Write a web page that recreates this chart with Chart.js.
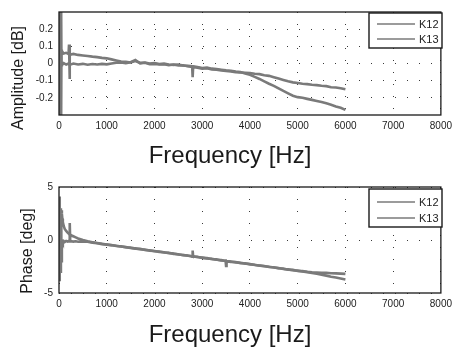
<!DOCTYPE html>
<html>
<head>
<meta charset="utf-8">
<script src="https://cdn.jsdelivr.net/npm/chart.js@4"></script>
<style>
  body { margin: 0; background: #fff; }
  #wrap { position: relative; width: 457px; height: 351px; }
  canvas { position: absolute; left: 0; }
</style>
</head>
<body>
<div id="wrap">
  <canvas id="amp" width="457" height="175" style="top:0"></canvas>
  <canvas id="phase" width="457" height="176" style="top:175px"></canvas>
</div>
<script>
// DATA
const seriesNames = ['K12', 'K13'];
const freqTicks = [0, 1000, 2000, 3000, 4000, 5000, 6000, 7000, 8000];
const ampTicks = [-0.2, -0.1, 0, 0.1, 0.2];
const phaseTicks = [-5, 0, 5];

// amplitude [dB]
const ampFreq = [0, 10, 20, 30, 40, 50, 60, 80, 100, 150, 200, 210, 220, 230, 250, 300,
  400, 500, 600, 700, 800, 900, 1000, 1100, 1200, 1300, 1400, 1500, 1600, 1700, 1800, 1900, 2000, 2100, 2200, 2300, 2400, 2500, 2600, 2700,
  2790, 2800, 2810,
  2900, 3000, 3100, 3200, 3300, 3400, 3500, 3600, 3700, 3800, 3900, 4000, 4100, 4200, 4300, 4400, 4500, 4600, 4700, 4800, 4900, 5000,
  5100, 5200, 5300, 5400, 5500, 5600, 5700, 5800, 5900, 6000];
const ampK12 = [0, 0.45, -0.45, 0.4, -0.4, 0.08, 0.055, 0.065, 0.058, 0.062, 0.055, 0.11, -0.09, 0.06, 0.052, 0.056,
  0.05, 0.047, 0.044, 0.04, 0.037, 0.033, 0.03, 0.024, 0.018, 0.012, 0.01, 0.006, 0.014, 0.004, 0.006, 0.0, 0.002, -0.003, -0.001, -0.006, -0.008, -0.006, -0.012, -0.014,
  -0.016, -0.018, -0.017,
  -0.02, -0.026, -0.024, -0.03, -0.033, -0.036, -0.04, -0.042, -0.047, -0.05, -0.058, -0.066, -0.078, -0.09, -0.104, -0.118, -0.13, -0.145, -0.16, -0.174, -0.188, -0.196,
  -0.2, -0.206, -0.212, -0.218, -0.224, -0.232, -0.24, -0.25, -0.258, -0.27];
const ampK13 = [0, -0.45, 0.45, -0.4, 0.4, -0.01, 0.005, -0.004, 0.002, -0.006, 0.0, -0.004, 0.003, -0.002, -0.005, 0.0,
  -0.006, -0.002, -0.007, -0.003, -0.006, -0.002, -0.005, 0.0, 0.004, 0.006, 0.002, 0.007, 0.02, 0.0, 0.004, -0.004, -0.002, -0.006, -0.004, -0.01, -0.006, -0.012, -0.01, -0.016,
  -0.02, -0.08, -0.02,
  -0.024, -0.03, -0.028, -0.034, -0.036, -0.04, -0.044, -0.046, -0.05, -0.052, -0.054, -0.056, -0.06, -0.062, -0.068, -0.072, -0.08, -0.088, -0.096, -0.104, -0.11, -0.114,
  -0.118, -0.12, -0.124, -0.126, -0.13, -0.132, -0.138, -0.14, -0.144, -0.15];

// phase [deg]
const phaseFreq = [0, 10, 20, 30, 40, 50, 60, 70, 80, 100, 120, 150, 180, 200, 215, 225, 235, 250, 300, 350, 400, 450, 500,
  600, 700, 800, 900, 1000, 1100, 1200, 1300, 1400, 1500, 1600, 1700, 1800, 1900, 2000, 2100, 2200, 2300, 2400, 2500, 2600, 2700,
  2790, 2800, 2810,
  2900, 3000, 3100, 3200, 3300, 3400,
  3490, 3500, 3510,
  3600, 3700, 3800, 3900, 4000, 4100, 4200, 4300, 4400, 4500, 4600, 4700, 4800, 4900, 5000, 5100, 5200, 5300, 5400, 5500, 5600, 5700, 5800, 5900, 6000];
const phaseK12 = [0, 4.1, -2.0, 3.0, -1.0, 2.8, 2.5, 2.0, 1.7, 1.3, 1.05, 0.85, 0.7, 0.62, 0.56, 0.52, 0.5, 0.45, 0.35, 0.25, 0.15, 0.08, 0.0,
  -0.12, -0.21, -0.29, -0.36, -0.42, -0.5, -0.54, -0.62, -0.67, -0.75, -0.79, -0.87, -0.91, -1.0, -1.04, -1.12, -1.16, -1.24, -1.28, -1.37, -1.41, -1.49,
  -1.53, -1.55, -1.54,
  -1.61, -1.66, -1.74, -1.78, -1.86, -1.9,
  -1.98, -1.96, -1.99,
  -2.03, -2.11, -2.15, -2.23, -2.27, -2.36, -2.4, -2.48, -2.52, -2.6, -2.65, -2.73, -2.77, -2.85, -2.89, -2.97, -3.03, -3.11, -3.19, -3.28, -3.36, -3.46, -3.54, -3.63, -3.72];
const phaseK13 = [0, -3.9, 2.0, -3.0, 1.8, -2.0, -0.3, -0.15, -0.25, -0.1, -0.2, -0.1, -0.15, -0.1, -0.14, 1.6, -0.14, -0.12, -0.15, -0.12, -0.16, -0.13, -0.17,
  -0.16, -0.25, -0.3, -0.39, -0.44, -0.48, -0.57, -0.6, -0.69, -0.72, -0.81, -0.84, -0.94, -0.97, -1.06, -1.09, -1.18, -1.21, -1.31, -1.34, -1.43, -1.46,
  -1.55, -1.0, -1.56,
  -1.59, -1.69, -1.71, -1.8, -1.83, -1.93,
  -1.96, -2.45, -1.99,
  -2.06, -2.08, -2.18, -2.2, -2.3, -2.33, -2.42, -2.45, -2.55, -2.57, -2.67, -2.7, -2.8, -2.82, -2.92, -2.94, -3.0, -3.04, -3.06, -3.09, -3.1, -3.13, -3.15, -3.17, -3.2];

const FONT = "'Liberation Sans', Arial, Helvetica, sans-serif";
const LINE = 'rgb(122,122,122)';

function toPoints(xs, ys) {
    return xs.map((x, i) => ({x: x, y: ys[i]}));
}

// axes box, titles and matlab style legend
const decoPlugin = {
    id: 'deco',
    afterDraw(chart, args, o) {
        const ctx = chart.ctx;
        const a = chart.chartArea;
        ctx.save();
        ctx.strokeStyle = '#1a1a1a';
        ctx.lineWidth = 1.3;
        ctx.strokeRect(a.left, a.top, a.right - a.left, a.bottom - a.top);

        // legend
        const b = o.legendBox;
        ctx.fillStyle = '#fff';
        ctx.fillRect(b[0], b[1], b[2], b[3]);
        ctx.lineWidth = 1.4;
        ctx.strokeRect(b[0], b[1], b[2], b[3]);
        chart.data.datasets.forEach((ds, i) => {
            const y = o.legendRows[i];
            ctx.strokeStyle = ds.borderColor;
            ctx.lineWidth = 1.5;
            ctx.beginPath();
            ctx.moveTo(b[0] + 8, y);
            ctx.lineTo(b[0] + 46, y);
            ctx.stroke();
            ctx.fillStyle = '#222';
            ctx.font = '11px ' + FONT;
            ctx.textAlign = 'left';
            ctx.textBaseline = 'middle';
            ctx.fillText(ds.label, b[0] + 50, y + 0.5);
        });

        // titles
        ctx.fillStyle = '#1a1a1a';
        ctx.font = '24px ' + FONT;
        ctx.textAlign = 'center';
        ctx.textBaseline = 'alphabetic';
        ctx.fillText(o.xTitle, o.xTitlePos[0], o.xTitlePos[1]);
        ctx.font = '16px ' + FONT;
        ctx.translate(o.yTitlePos[0], o.yTitlePos[1]);
        ctx.rotate(-Math.PI / 2);
        ctx.fillText(o.yTitle, 0, 0);
        ctx.restore();
    }
};

function makeChart(id, xs, ys1, ys2, yMin, yMax, yTicks, pad, xHeight, deco) {
    return new Chart(document.getElementById(id), {
        type: 'line',
        data: {
            datasets: [
                {label: seriesNames[0], data: toPoints(xs, ys1), borderColor: LINE, borderWidth: 2.6, pointRadius: 0, tension: 0, clip: 0},
                {label: seriesNames[1], data: toPoints(xs, ys2), borderColor: LINE, borderWidth: 2.6, pointRadius: 0, tension: 0, clip: 0},
            ],
        },
        options: {
            responsive: false,
            animation: false,
            events: [],
            layout: {padding: pad},
            plugins: {legend: {display: false}, tooltip: {enabled: false}, deco: deco},
            scales: {
                x: {
                    type: 'linear', min: 0, max: 8000,
                    afterBuildTicks: s => { s.ticks = freqTicks.map(v => ({value: v})); },
                    afterFit: s => { s.height = xHeight; },
                    grid: {color: '#3a3a3a', lineWidth: 1, drawTicks: false},
                    border: {display: false, dash: [1, 11]},
                    ticks: {font: {size: 10, family: FONT}, color: '#222', padding: 5, maxRotation: 0, autoSkip: false,
                        callback: v => String(v)},
                },
                y: {
                    type: 'linear', min: yMin, max: yMax,
                    afterBuildTicks: s => { s.ticks = yTicks.map(v => ({value: v})); },
                    afterFit: s => { s.width = 59; },
                    grid: {color: '#3a3a3a', lineWidth: 1, drawTicks: false},
                    border: {display: false, dash: [1, 11]},
                    ticks: {font: {size: 10, family: FONT}, color: '#222', padding: 6, autoSkip: false,
                        callback: v => String(v)},
                },
            },
        },
        plugins: [decoPlugin],
    });
}

makeChart('amp', ampFreq, ampK12, ampK13, -0.3, 0.3, ampTicks,
    {left: 0, right: 9, top: 7, bottom: 0}, 60,
    {xTitle: 'Frequency [Hz]', xTitlePos: [230, 163], yTitle: 'Amplitude [dB]', yTitlePos: [23, 78],
        legendBox: [369, 13, 73, 35], legendRows: [24, 39]});

makeChart('phase', phaseFreq, phaseK12, phaseK13, -5, 5, phaseTicks,
    {left: 0, right: 9, top: 11, bottom: 0}, 58,
    {xTitle: 'Frequency [Hz]', xTitlePos: [230, 166.5], yTitle: 'Phase [deg]', yTitlePos: [31.5, 76],
        legendBox: [369, 14, 73, 38], legendRows: [27, 43]});
</script>
</body>
</html>
